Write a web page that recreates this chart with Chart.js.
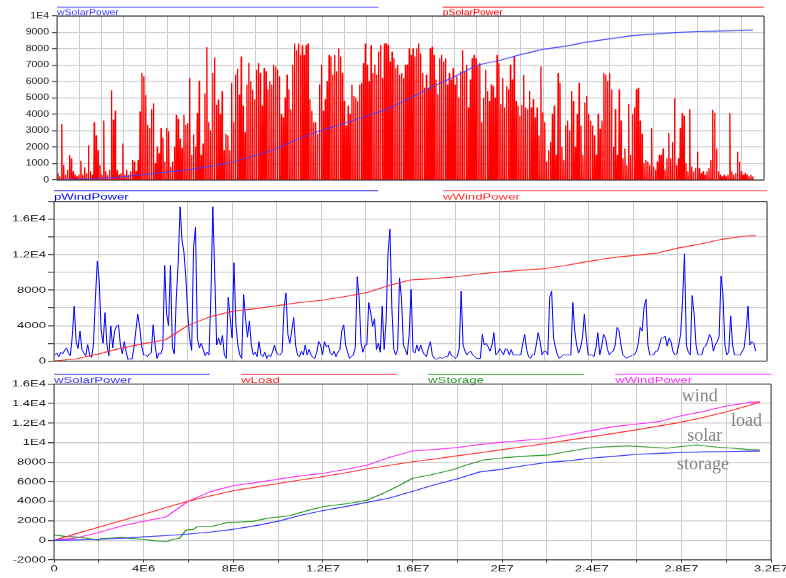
<!DOCTYPE html>
<html>
<head>
<meta charset="utf-8">
<script src="https://cdn.jsdelivr.net/npm/chart.js@4.4.0/dist/chart.umd.min.js"></script>
<style>
  html, body { margin: 0; padding: 0; background: #fff; }
  #page { position: relative; width: 786px; height: 578px; overflow: hidden; }
  #page canvas { position: absolute; left: 0; transform-origin: 0 0; }
</style>
</head>
<body>
<div id="page">
  <canvas id="solarChart" width="786" height="232" style="top:0px; transform:scaleY(0.8)"></canvas>
  <canvas id="windChart" width="786" height="265" style="top:186px; transform:scaleY(0.68)"></canvas>
  <canvas id="energyChart" width="786" height="312" style="top:366px; transform:scaleY(0.68)"></canvas>
</div>
<script>
const DAY = 86400;
const MEGA = 1e6;

// peak solar power of each day of the year
const solarPeaks = [
  400, 200, 3400, 900, 300, 600, 1500, 1300, 500, 300,
  200, 300, 1150, 300, 750, 400, 2100, 500, 300, 3500,
  2700, 1800, 900, 300, 3600, 500, 300, 600, 5450, 3650,
  4200, 600, 300, 400, 2200, 300, 600, 300, 500, 1200,
  1100, 500, 1200, 4150, 6500, 6300, 5150, 3350, 3150, 4300,
  4650, 1000, 2000, 1600, 3150, 2550, 1100, 3150, 2950, 800,
  1100, 2000, 3950, 3700, 2500, 1930, 3950, 3350, 3450, 6200,
  1500, 2740, 2000, 4060, 6030, 1500, 2200, 5260, 8080, 3500,
  3000, 6500, 7450, 4570, 4870, 4000, 5380, 1800, 2800, 2700,
  1800, 5900, 3500, 6400, 6760, 5180, 7500, 4500, 2900, 5790,
  7110, 6000, 5480, 4900, 6700, 7100, 6500, 4500, 6800, 6600,
  5500, 6000, 5800, 7000, 6900, 6700, 6300, 4000, 3800, 5000,
  6400, 5500, 4300, 7000, 8300, 7900, 8300, 7600, 8200, 7600,
  8200, 8300, 4900, 4200, 3500, 3500, 2800, 5800, 7000, 4200,
  4900, 6000, 7600, 7500, 6400, 7600, 6600, 8000, 7500, 6500,
  4800, 3300, 4500, 4000, 5800, 5100, 5000, 4800, 5800, 5900,
  7100, 8300, 7000, 6000, 8200, 6500, 7000, 6400, 7800, 8200,
  6200, 8300, 8300, 8200, 7200, 7800, 7400, 6800, 7000, 6400,
  6500, 6200, 7000, 7000, 8000, 7600, 8000, 7500, 8000, 8300,
  7700, 6500, 5600, 6400, 5600, 8000, 8100, 7600, 6100, 5200,
  7400, 7600, 7200, 7400, 5800, 6500, 6100, 6800, 5800, 6300,
  5000, 6600, 7900, 6600, 7000, 4400, 6100, 7400, 7600, 7400,
  7000, 7100, 3500, 5000, 6700, 5400, 4800, 5800, 5700, 5000,
  7600, 7100, 4600, 6200, 4400, 5700, 5500, 7000, 6100, 7500,
  4800, 4500, 3900, 4570, 6400, 4400, 4300, 5400, 4400, 4900,
  3800, 4400, 2700, 6900, 4100, 3500, 1100, 1800, 2300, 4000,
  4500, 1500, 6500, 5900, 2000, 1200, 3300, 3600, 3000, 5400,
  4800, 2000, 4000, 5900, 3300, 1500, 4700, 5100, 4000, 3600,
  3300, 2700, 1500, 4000, 3100, 3600, 6500, 6400, 6000, 6500,
  5500, 2000, 4300, 1500, 5500, 3600, 1300, 1900, 900, 4600,
  1500, 4000, 4400, 5500, 5600, 3600, 2800, 1000, 1200, 1100,
  900, 3150, 800, 600, 1100, 1500, 1500, 1900, 600, 1300,
  2850, 1300, 2300, 4970, 900, 1300, 3150, 4060, 3900, 1000,
  500, 4300, 800, 500, 700, 1700, 700, 400, 500, 300,
  500, 700, 1200, 4260, 4060, 1900, 500, 300, 200, 300,
  200, 300, 4060, 500, 300, 400, 1700, 1100, 500, 300,
  400, 300, 200, 300, 200
];

// wind power, one value per day
const windPower = [
  700, 900, 500, 1000, 800, 1200, 1500, 900, 600, 2800,
  6200, 2200, 1400, 3400, 1300, 900, 600, 1850, 700, 400,
  1850, 7000, 11300, 9000, 3400, 2000, 5450, 1800, 600, 3950,
  1500, 3400, 3950, 4100, 1800, 800, 2200, 1000, 150, 300,
  200, 1500, 3400, 5300, 3900, 1800, 700, 700, 500, 800,
  900, 4100, 1800, 300, 900, 800, 1500, 10800, 5300, 4000,
  10800, 1500, 800, 7000, 11000, 17400, 13600, 12300, 9400, 5300,
  2500, 1200, 12800, 15100, 2600, 1500, 2000, 1300, 600, 1000,
  700, 7200, 17400, 9800, 1800, 2600, 1800, 2900, 700, 300,
  7200, 4900, 2600, 11100, 4100, 1800, 700, 300, 7500, 4800,
  2700, 4500, 1800, 700, 1000, 500, 2200, 700, 500, 1000,
  300, 700, 500, 1000, 1800, 1000, 700, 700, 1000, 6000,
  7700, 3000, 2000, 3400, 4900, 1800, 700, 500, 1100, 700,
  1800, 700, 1300, 700, 400, 300, 1000, 2200, 1800, 700,
  2200, 1600, 1800, 900, 700, 1100, 500, 1000, 1300, 3400,
  4100, 1800, 1000, 300, 500, 700, 1500, 9500, 7200, 2000,
  1000, 1800, 1800, 6600, 5500, 3900, 4800, 1300, 2000, 1000,
  6200, 1300, 4500, 12100, 14900, 6000, 1300, 700, 1300, 9400,
  7000, 1800, 1300, 700, 3000, 8100, 1100, 900, 1800, 1100,
  1800, 1100, 700, 500, 1500, 2200, 700, 300, 200, 300,
  400, 300, 400, 500, 500, 1100, 600, 500, 300, 500,
  1400, 7900, 1800, 1100, 700, 1000, 1100, 700, 500, 300,
  300, 300, 3000, 1800, 2000, 1600, 1100, 1800, 3200, 700,
  900, 1400, 1100, 700, 1400, 1300, 700, 1300, 700, 700,
  700, 700, 700, 2000, 3000, 1300, 500, 300, 700, 700,
  1800, 3200, 2200, 700, 1100, 1100, 700, 7200, 7900, 2600,
  1500, 700, 300, 500, 700, 700, 700, 700, 700, 6600,
  3400, 1800, 900, 1500, 2600, 5300, 2600, 700, 700, 700,
  500, 1500, 3200, 700, 1700, 3000, 2600, 1300, 700, 1000,
  1100, 1800, 3800, 3400, 1800, 700, 500, 300, 500, 500,
  700, 700, 1100, 2000, 3800, 3400, 6000, 7000, 1800, 700,
  700, 700, 1100, 1100, 1800, 2600, 2600, 2800, 1700, 2600,
  2200, 1100, 700, 800, 1800, 3000, 6800, 12100, 1800, 1000,
  700, 7400, 5300, 1800, 700, 700, 700, 1500, 1700, 2200,
  3000, 2600, 1100, 1800, 2200, 2800, 9600, 7500, 1800, 700,
  1000, 5100, 1800, 700, 700, 700, 700, 1100, 1500, 3400,
  6200, 1800, 2200, 2000, 1100
];

// accumulated energies, time in units of 1E6 s
const energyTimes = [
  0, 1, 2, 3, 4, 5, 6, 7, 8, 9, 10, 11, 12, 13, 14, 15, 16,
  17, 18, 19, 20, 21, 22, 23, 24, 25, 26, 27, 28, 29, 30, 31, 31.5
];
const wSolarPower = [
  0, 40, 100, 200, 350, 480, 640, 850, 1120, 1500,
  1950, 2550, 3040, 3450, 3900, 4350, 5000, 5700, 6300, 7000,
  7280, 7650, 7970, 8150, 8420, 8600, 8800, 8900, 8990, 9050,
  9080, 9120, 9140
];
const wWindPower = [
  0, 250, 800, 1450, 1950, 2400, 4000, 5000, 5600, 5900,
  6250, 6600, 6850, 7250, 7700, 8500, 9150, 9300, 9500, 9800,
  10050, 10250, 10420, 10800, 11250, 11650, 11900, 12150, 12750, 13200,
  13750, 14100, 14170
];
const wLoad = [
  0, 680, 1350, 2000, 2660, 3350, 4020, 4560, 5080, 5450,
  5810, 6170, 6520, 6900, 7320, 7690, 8040, 8330, 8650, 8960,
  9280, 9600, 9920, 10270, 10600, 10950, 11320, 11700, 12100, 12600,
  13150, 13800, 14150
];
const storageTimes = [
  0, 0.5, 1, 1.5, 2, 2.1, 2.5, 3, 3.5, 4,
  4.5, 5, 5.3, 5.6, 5.9, 6.2, 6.4, 7.1, 7.7, 8.9,
  9.5, 10.5, 11.4, 12, 13.2, 14, 14.7, 15.45, 16, 16.8,
  17.75, 18.4, 19.2, 19.9, 20.65, 22.1, 22.9, 23.8, 24.5, 25.6,
  26.6, 27.35, 28, 28.7, 29.6, 30.3, 31, 31.5
];
const wStorage = [
  540, 400, 330, 200, 0, 180, 220, 300, 180, 100,
  -50, -150, 100, 200, 1050, 1100, 1400, 1450, 1800, 1950,
  2250, 2520, 3100, 3440, 3790, 4130, 4810, 5670, 6350, 6700,
  7200, 7710, 8230, 8400, 8570, 8740, 9080, 9430, 9550, 9660,
  9530, 9430, 9600, 9760, 9530, 9430, 9300, 9250
];

const solarTickLabels = ['0', '1000', '2000', '3000', '4000', '5000', '6000', '7000', '8000', '9000', '1E4'];
const windTickLabels = ['0', '', '4000', '', '8000', '', '1.2E4', '', '1.6E4', ''];
const energyTickLabels = ['-2000', '0', '2000', '4000', '6000', '8000', '1E4', '1.2E4', '1.4E4', '1.6E4'];
const timeTickLabels = ['0', '', '4E6', '', '8E6', '', '1.2E7', '', '1.6E7', '', '2E7', '', '2.4E7', '', '2.8E7', '', '3.2E7'];

const curveNotes = ['wind', 'load', 'solar', 'storage'];

const SANS = "'Liberation Sans', Arial, sans-serif";
const GRID = '#cdcdcd';
const INK = '#202020';

const toPoints = (times, values) => times.map((t, i) => ({ x: t * MEGA, y: values[i] }));

// each day drawn as a narrow 0 -> peak -> 0 spike
const solarSpikes = solarPeaks.flatMap((p, d) => [
  { x: (d + 0.3) * DAY, y: 0 },
  { x: (d + 0.5) * DAY, y: p },
  { x: (d + 0.7) * DAY, y: 0 }
]);
const windPoints = windPower.map((v, d) => ({ x: (d + 0.5) * DAY, y: v }));

// legend: coloured line with the name underneath, items spread over the plot width
const lineLegend = {
  id: 'lineLegend',
  afterDraw(chart, args, opts) {
    const { ctx, chartArea: a } = chart;
    const sets = chart.data.datasets;
    const unit = (a.right - a.left) / (6 * sets.length - 1);
    ctx.save();
    ctx.font = opts.font;
    ctx.textBaseline = 'alphabetic';
    ctx.textAlign = 'left';
    sets.forEach((ds, i) => {
      const x0 = a.left + 6 * unit * i;
      const y = a.top - opts.lineOffset;
      ctx.strokeStyle = ds.borderColor;
      ctx.lineWidth = 1;
      ctx.beginPath();
      ctx.moveTo(x0, y);
      ctx.lineTo(x0 + 5 * unit, y);
      ctx.stroke();
      ctx.fillStyle = ds.borderColor;
      ctx.fillText(ds.label, x0, a.top - opts.textOffset);
    });
    ctx.restore();
  }
};

// box around the plot area
const plotFrame = {
  id: 'plotFrame',
  afterDraw(chart, args, opts) {
    const { ctx, chartArea: a } = chart;
    ctx.save();
    ctx.strokeStyle = '#404040';
    ctx.lineWidth = 1;
    ctx.beginPath();
    ctx.moveTo(a.left, a.top); ctx.lineTo(a.left, a.bottom);
    ctx.moveTo(a.right, a.top); ctx.lineTo(a.right, a.bottom);
    ctx.stroke();
    ctx.lineWidth = 1 / opts.sq;
    ctx.beginPath();
    ctx.moveTo(a.left, a.top); ctx.lineTo(a.right, a.top);
    ctx.moveTo(a.left, a.bottom); ctx.lineTo(a.right, a.bottom);
    ctx.stroke();
    ctx.restore();
  }
};

// names written next to the curve ends
const curveLabels = {
  id: 'curveLabels',
  afterDatasetsDraw(chart, args, opts) {
    const { ctx, scales: { x, y } } = chart;
    ctx.save();
    ctx.font = opts.font;
    ctx.fillStyle = opts.color;
    ctx.textAlign = 'left';
    ctx.textBaseline = 'alphabetic';
    opts.items.forEach((it) => {
      ctx.save();
      ctx.translate(x.getPixelForValue(it.t * MEGA), y.getPixelForValue(it.v));
      ctx.scale(1, 1 / opts.sq);
      ctx.fillText(it.text, 0, 0);
      ctx.restore();
    });
    ctx.restore();
  }
};

function baseOptions(sq, pad, yWidth, xHeight) {
  return {
    responsive: false,
    animation: false,
    events: [],
    layout: { padding: { top: pad.top, right: pad.right, left: 0, bottom: 0 } },
    elements: { point: { radius: 0 }, line: { tension: 0, borderJoinStyle: 'round' } },
    plugins: {
      legend: { display: false },
      tooltip: { enabled: false },
      plotFrame: { sq }
    },
    scales: {
      x: {
        type: 'linear', min: 0, max: 3.2e7,
        border: { display: false },
        grid: { color: GRID, drawTicks: false },
        ticks: { display: false, autoSkip: false, stepSize: 2e6 },
        afterFit(s) { s.height = xHeight; s.paddingLeft = 0; s.paddingRight = 0; }
      },
      y: {
        border: { display: false },
        grid: { color: GRID, lineWidth: 1 / sq, tickLength: 6, tickColor: '#404040' },
        ticks: { autoSkip: false, color: INK, padding: 2 },
        afterFit(s) { s.width = yWidth; s.paddingTop = 0; s.paddingBottom = 0; }
      }
    }
  };
}

// solar power and its accumulated energy
const solarOpts = baseOptions(0.8, { top: 20, right: 22 }, 57, 7);
solarOpts.scales.x.ticks.stepSize = 1e6;
Object.assign(solarOpts.scales.y, { min: 0, max: 1e4 });
Object.assign(solarOpts.scales.y.ticks, {
  stepSize: 1000, padding: 3,
  font: { family: SANS, size: 10.5 },
  callback: (v, i) => solarTickLabels[i]
});
solarOpts.scales.y.grid.tickLength = 5;
solarOpts.plugins.lineLegend = { font: '10.5px ' + SANS, lineOffset: 10.9, textOffset: 1.25 };

new Chart(document.getElementById('solarChart'), {
  type: 'line',
  data: {
    datasets: [
      { label: 'wSolarPower', data: toPoints(energyTimes, wSolarPower), borderColor: '#4040ff', borderWidth: 1.2 },
      { label: 'pSolarPower', data: solarSpikes, borderColor: '#ff0000', borderWidth: 1.3 }
    ]
  },
  options: solarOpts,
  plugins: [lineLegend, plotFrame]
});

// wind power and its accumulated energy
const windOpts = baseOptions(0.68, { top: 22.8, right: 19 }, 54, 7.6);
Object.assign(windOpts.scales.y, { min: 0, max: 1.8e4 });
Object.assign(windOpts.scales.y.ticks, {
  stepSize: 2000,
  font: { family: SANS, size: 13 },
  callback: (v, i) => windTickLabels[i]
});
windOpts.plugins.lineLegend = { font: '13.2px ' + SANS, lineOffset: 15.9, textOffset: 3.2 };

new Chart(document.getElementById('windChart'), {
  type: 'line',
  data: {
    datasets: [
      { label: 'pWindPower', data: windPoints, borderColor: '#0000ff', borderWidth: 1, order: 1 },
      { label: 'wWindPower', data: toPoints(energyTimes, wWindPower), borderColor: '#ff3030', borderWidth: 1.4, order: 0 }
    ]
  },
  options: windOpts,
  plugins: [lineLegend, plotFrame]
});

// energy balance of the year
const energyOpts = baseOptions(0.68, { top: 26.5, right: 15 }, 54, 27);
Object.assign(energyOpts.scales.x.grid, { drawTicks: true, tickLength: 4, tickColor: '#404040' });
Object.assign(energyOpts.scales.x.ticks, {
  display: true, maxRotation: 0, padding: 2, color: INK,
  font: { family: SANS, size: 13 },
  callback: (v, i) => timeTickLabels[i]
});
Object.assign(energyOpts.scales.y, { min: -2000, max: 1.6e4 });
Object.assign(energyOpts.scales.y.ticks, {
  stepSize: 2000,
  font: { family: SANS, size: 13 },
  callback: (v, i) => energyTickLabels[i]
});
energyOpts.plugins.lineLegend = { font: '13.2px ' + SANS, lineOffset: 14.3, textOffset: 1.9 };
energyOpts.plugins.curveLabels = {
  sq: 0.68,
  font: "18px 'Liberation Serif', 'Times New Roman', serif",
  color: '#858585',
  items: [
    { text: curveNotes[0], t: 28.02, v: 14200 },
    { text: curveNotes[1], t: 30.22, v: 11740 },
    { text: curveNotes[2], t: 28.26, v: 10170 },
    { text: curveNotes[3], t: 27.8, v: 7250 }
  ]
};

new Chart(document.getElementById('energyChart'), {
  type: 'line',
  data: {
    datasets: [
      { label: 'wSolarPower', data: toPoints(energyTimes, wSolarPower), borderColor: '#3a3aff', borderWidth: 1.4 },
      { label: 'wLoad', data: toPoints(energyTimes, wLoad), borderColor: '#ff3030', borderWidth: 1.4 },
      { label: 'wStorage', data: toPoints(storageTimes, wStorage), borderColor: '#2a9a2a', borderWidth: 1.4 },
      { label: 'wWindPower', data: toPoints(energyTimes, wWindPower), borderColor: '#ff30ff', borderWidth: 1.4 }
    ]
  },
  options: energyOpts,
  plugins: [lineLegend, plotFrame, curveLabels]
});
</script>
</body>
</html>
